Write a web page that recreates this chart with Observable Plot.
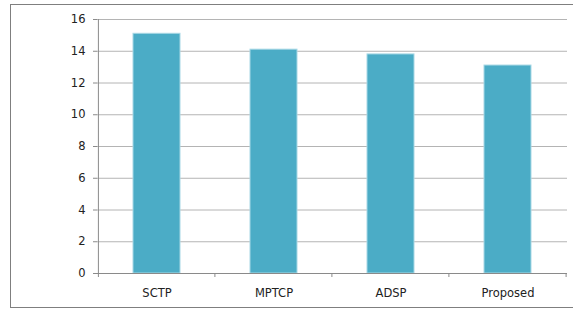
<!DOCTYPE html>
<html>
<head>
<meta charset="utf-8">
<script src="https://cdn.jsdelivr.net/npm/d3@7"></script>
<script src="https://cdn.jsdelivr.net/npm/@observablehq/plot@0.6"></script>
<style>
  html, body { margin: 0; padding: 0; background: #fff; overflow: hidden; }
  #wrap { position: relative; width: 573px; height: 311px; }
  #border { position: absolute; left: 10px; top: 4px; width: 600px; height: 304px;
            box-sizing: border-box; border: 1px solid #7f7f7f; pointer-events: none; }
  #wrap svg { position: absolute; left: 0; top: 0; }
</style>
</head>
<body>
<div id="wrap"><div id="border"></div></div>
<script>
const categories = ["SCTP", "MPTCP", "ADSP", "Proposed"];
const values = [15.1, 14.1, 13.8, 13.1];
const yTicks = [0, 2, 4, 6, 8, 10, 12, 14, 16];

const data = categories.map((c, i) => ({category: c, value: values[i]}));

const chart = Plot.plot({
  width: 573,
  height: 311,
  marginLeft: 97,
  marginRight: 6,
  marginTop: 19,
  marginBottom: 38,
  style: {fontFamily: "'DejaVu Sans', Verdana, sans-serif", fontSize: "11.5px", color: "#222", background: "transparent"},
  x: {domain: categories, paddingInner: 0.6, paddingOuter: 0.3, label: null},
  y: {domain: [0, 16], label: null},
  marks: [
    Plot.gridY(yTicks, {stroke: "#b4b4b4", strokeOpacity: 1, strokeWidth: 1}),
    Plot.barY(data, {x: "category", y: "value", fill: "#4BACC6", stroke: "#a8d8e5", strokeWidth: 1}),
    Plot.axisY(yTicks, {tickSize: 4, tickPadding: 8, stroke: "#8a8a8a", fill: "#222", label: null}),
    Plot.axisX({tickSize: 0, tickPadding: 15, fill: "#222", label: null}),
    Plot.ruleY([0], {stroke: "#8a8a8a", strokeWidth: 1})
  ]
});

// Excel-style axis line and category-boundary ticks, positioned via Plot's scales
const xs = chart.scale("x");
const ys = chart.scale("y");
const half = xs.step * xs.paddingInner / 2;
const y0 = ys.apply(0);
const yTop = ys.apply(16);
const g = d3.select(chart).append("g").attr("stroke", "#8a8a8a").attr("stroke-width", 1);
const bounds = categories.map(c => xs.apply(c) - half);
bounds.push(xs.apply(categories[categories.length - 1]) + xs.bandwidth + half);
g.append("line").attr("x1", bounds[0] + 0.5).attr("x2", bounds[0] + 0.5).attr("y1", yTop).attr("y2", y0 + 4);
bounds.slice(1).forEach(b => {
  g.append("line").attr("x1", b).attr("x2", b).attr("y1", y0).attr("y2", y0 + 4);
});

document.getElementById("wrap").appendChild(chart);
</script>
</body>
</html>
